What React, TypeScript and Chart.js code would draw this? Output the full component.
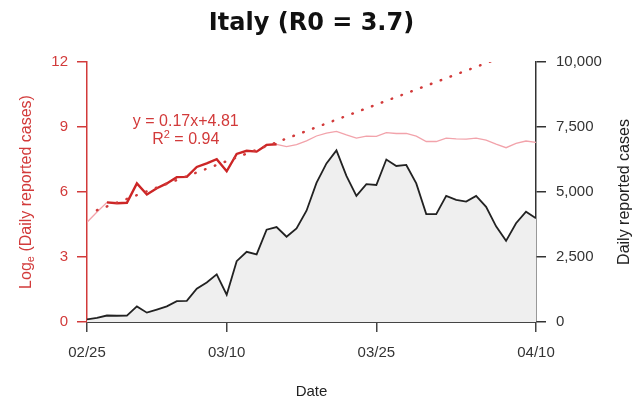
import React, { useEffect, useRef } from "react";
import { Chart, registerables } from "chart.js";

Chart.register(...registerables);

// ---- Data ----
// Daily reported cases, one value per day starting 02/25 (day 0) to 04/10 (day 45)
const cases: number[] = [
  100, 160, 250, 240, 245, 600, 360, 480, 600, 800,
  810, 1280, 1520, 1830, 1050, 2340, 2700, 2600, 3550, 3650,
  3280, 3600, 4280, 5350, 6100, 6600, 5620, 4850, 5300, 5270,
  6250, 6000, 6040, 5330, 4150, 4150, 4850, 4700, 4630, 4850,
  4430, 3680, 3120, 3800, 4240, 3990,
];
const tickDays: number[] = [0, 14, 29, 45];
const tickLabels: string[] = ["02/25", "03/10", "03/25", "04/10"];
const leftTickValues: number[] = [0, 3, 6, 9, 12];
const rightTickValues: number[] = [0, 2500, 5000, 7500, 10000];
const fitWindow: number[] = [2, 19]; // days used for the log-linear fit
const fitLineDays: number[] = [1, 45];
const fitLineValues: number[] = [5.16, 12.82];
const titleText = "Italy (R0 = 3.7)";
const fitEquation = "y = 0.17x+4.81";
const fitR2 = "0.94";

const RED = "#d23a3a";
const DARK_RED = "#cc2626";
const PINK = "#f2a3ab";
const INK = "#222222";

const casePoints = cases.map((v, i) => ({ x: i, y: v }));
const logPoints = cases.map((v, i) => ({ x: i, y: Math.log(v) }));
const fitPoints = logPoints.filter((p) => p.x >= fitWindow[0] && p.x <= fitWindow[1]);
const fitLine = fitLineDays.map((d, i) => ({ x: d, y: fitLineValues[i] }));

const textPlugin = {
  id: "textOverlay",
  afterDraw(chart: any) {
    const ctx: CanvasRenderingContext2D = chart.ctx;
    const ca = chart.chartArea;
    const cx = (ca.left + ca.right) / 2;
    const cy = (ca.top + ca.bottom) / 2;
    ctx.save();

    // Title
    ctx.font = "bold 24px 'DejaVu Sans', sans-serif";
    ctx.fillStyle = "#111";
    ctx.textAlign = "center";
    ctx.textBaseline = "alphabetic";
    ctx.fillText(titleText, cx, 30);

    // X axis title
    ctx.font = "15px 'Liberation Sans', Arial, sans-serif";
    ctx.fillStyle = INK;
    ctx.textBaseline = "middle";
    ctx.fillText("Date", cx, 392);

    // Right axis title
    ctx.save();
    ctx.translate(625, cy);
    ctx.rotate(-Math.PI / 2);
    ctx.font = "16px 'Liberation Sans', Arial, sans-serif";
    ctx.textAlign = "center";
    ctx.textBaseline = "middle";
    ctx.fillStyle = INK;
    ctx.fillText("Daily reported cases", 0, 0);
    ctx.restore();

    // Left axis title with subscript
    ctx.save();
    ctx.translate(27, cy);
    ctx.rotate(-Math.PI / 2);
    ctx.fillStyle = RED;
    ctx.textBaseline = "middle";
    ctx.textAlign = "left";
    const big = "16px 'Liberation Sans', Arial, sans-serif";
    const small = "11px 'Liberation Sans', Arial, sans-serif";
    const p1 = "Log";
    const p2 = "e";
    const p3 = " (Daily reported cases)";
    ctx.font = big;
    const w1 = ctx.measureText(p1).width;
    const w3 = ctx.measureText(p3).width;
    ctx.font = small;
    const w2 = ctx.measureText(p2).width;
    let sx = -(w1 + w2 + w3) / 2;
    ctx.font = big;
    ctx.fillText(p1, sx, 0);
    sx += w1;
    ctx.font = small;
    ctx.fillText(p2, sx, 4);
    sx += w2;
    ctx.font = big;
    ctx.fillText(p3, sx, 0);
    ctx.restore();

    // Fit annotation
    const ax = chart.scales.x.getPixelForValue(9.9);
    const ay = chart.scales.y.getPixelForValue(9.25);
    ctx.fillStyle = RED;
    ctx.textAlign = "center";
    ctx.textBaseline = "middle";
    ctx.font = big;
    ctx.fillText(fitEquation, ax, ay);
    const r1 = "R";
    const r2 = "2";
    const r3 = " = " + fitR2;
    ctx.font = big;
    const rw1 = ctx.measureText(r1).width;
    const rw3 = ctx.measureText(r3).width;
    ctx.font = small;
    const rw2 = ctx.measureText(r2).width;
    let rx = ax - (rw1 + rw2 + rw3) / 2;
    const ry = ay + 18;
    ctx.textAlign = "left";
    ctx.font = big;
    ctx.fillText(r1, rx, ry);
    rx += rw1;
    ctx.font = small;
    ctx.fillText(r2, rx, ry - 5);
    rx += rw2;
    ctx.font = big;
    ctx.fillText(r3, rx, ry);

    ctx.restore();
  },
};

export default function App() {
  const canvasRef = useRef<HTMLCanvasElement | null>(null);

  useEffect(() => {
    if (!canvasRef.current) return;
    Chart.defaults.font.family = "'Liberation Sans', Arial, sans-serif";
    const chart = new Chart(canvasRef.current, {
      type: "line",
      data: {
        datasets: [
          {
            label: "fit",
            data: fitLine,
            yAxisID: "y",
            borderColor: RED,
            borderWidth: 2.5,
            borderDash: [0.5, 10],
            borderCapStyle: "round",
            pointRadius: 0,
            fill: false,
            order: 0,
          },
          {
            label: "log window",
            data: fitPoints,
            yAxisID: "y",
            borderColor: DARK_RED,
            borderWidth: 2.4,
            pointRadius: 0,
            fill: false,
            order: 1,
          },
          {
            label: "log cases",
            data: logPoints,
            yAxisID: "y",
            borderColor: PINK,
            borderWidth: 1.3,
            pointRadius: 0,
            fill: false,
            order: 2,
          },
          {
            label: "cases",
            data: casePoints,
            yAxisID: "y2",
            borderColor: INK,
            borderWidth: 1.8,
            backgroundColor: "#efefef",
            pointRadius: 0,
            fill: "origin",
            order: 3,
          },
        ],
      } as any,
      options: {
        animation: false,
        responsive: false,
        maintainAspectRatio: false,
        layout: { padding: { top: 62, left: 0, right: 0, bottom: 0 } },
        plugins: {
          legend: { display: false },
          tooltip: { enabled: false },
          title: { display: false },
        },
        elements: { line: { tension: 0 } },
        scales: {
          x: {
            type: "linear",
            position: "bottom",
            min: tickDays[0],
            max: tickDays[tickDays.length - 1],
            afterBuildTicks: (s: any) => {
              s.ticks = tickDays.map((v) => ({ value: v }));
            },
            afterFit: (s: any) => {
              s.height = 82;
            },
            ticks: {
              autoSkip: false,
              maxRotation: 0,
              color: "#333",
              font: { size: 15 },
              padding: 12,
              callback: (_v: any, i: number) => tickLabels[i],
            },
            grid: {
              display: true,
              drawOnChartArea: false,
              drawTicks: true,
              tickLength: 10,
              color: "#444",
              lineWidth: 1.5,
            },
            border: { display: true, color: "#444", width: 2 },
          },
          y: {
            type: "linear",
            position: "left",
            min: leftTickValues[0],
            max: leftTickValues[leftTickValues.length - 1],
            afterBuildTicks: (s: any) => {
              s.ticks = leftTickValues.map((v) => ({ value: v }));
            },
            afterFit: (s: any) => {
              s.width = 87;
            },
            ticks: {
              color: RED,
              font: { size: 15 },
              padding: 9,
              callback: (v: any) => String(v),
            },
            grid: {
              display: true,
              drawOnChartArea: false,
              drawTicks: true,
              tickLength: 10,
              color: RED,
              lineWidth: 1.5,
            },
            border: { display: true, color: RED, width: 1.5 },
          },
          y2: {
            type: "linear",
            position: "right",
            min: rightTickValues[0],
            max: rightTickValues[rightTickValues.length - 1],
            afterBuildTicks: (s: any) => {
              s.ticks = rightTickValues.map((v) => ({ value: v }));
            },
            afterFit: (s: any) => {
              s.width = 99;
            },
            ticks: {
              color: "#333",
              font: { size: 15 },
              padding: 10,
              callback: (v: any) => Number(v).toLocaleString("en-US"),
            },
            grid: {
              display: true,
              drawOnChartArea: false,
              drawTicks: true,
              tickLength: 10,
              color: "#333",
              lineWidth: 1.5,
            },
            border: { display: true, color: "#333", width: 1.5 },
          },
        },
      } as any,
      plugins: [textPlugin],
    });
    return () => chart.destroy();
  }, []);

  return (
    <div style={{ position: "absolute", left: 0, top: 0, width: 635, height: 404, background: "#fff" }}>
      <canvas ref={canvasRef} width={635} height={404} style={{ display: "block" }} />
    </div>
  );
}
